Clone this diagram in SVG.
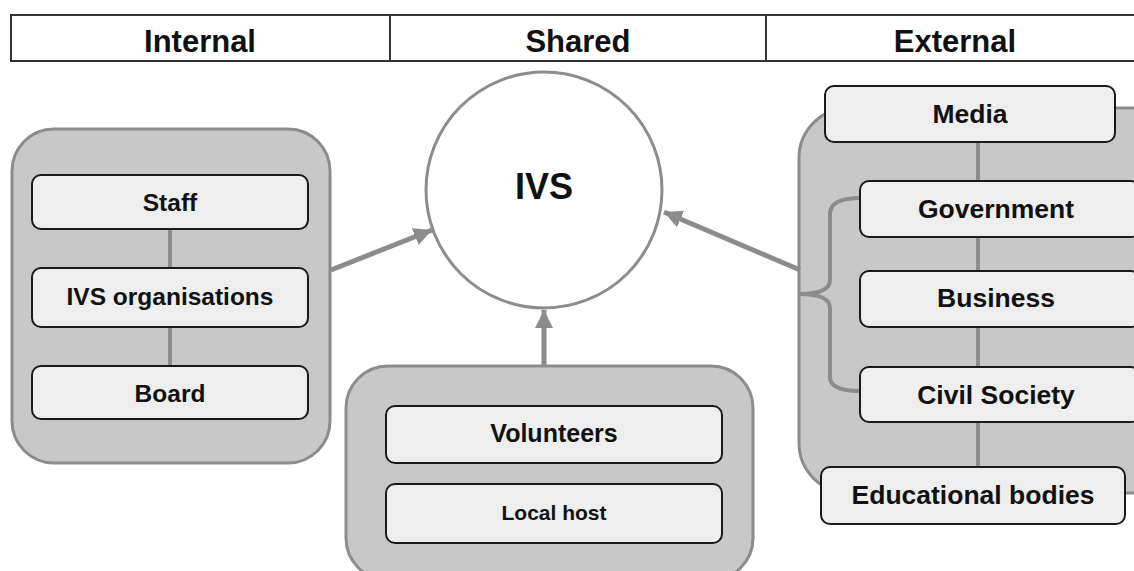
<svg xmlns="http://www.w3.org/2000/svg" width="1134" height="571" viewBox="0 0 1134 571">
<style>
text{font-family:"Liberation Sans",Arial,sans-serif;font-weight:bold;fill:#111;text-anchor:middle}
.grp{fill:#c8c8c8;stroke:#8c8c8c;stroke-width:3}
.box{fill:#eeeeee;stroke:#1a1a1a;stroke-width:2}
.link{stroke:#8c8c8c;stroke-width:4;fill:none}
.arr{stroke:#8c8c8c;stroke-width:5;fill:none;marker-end:url(#ah)}
.hdr{font-size:31px}
.l{font-size:24.5px}
.r{font-size:26.5px}
</style>
<defs>
<marker id="ah" markerUnits="userSpaceOnUse" markerWidth="20" markerHeight="18" refX="18" refY="9" orient="auto">
<path d="M0,0 L18,9 L0,18 Z" fill="#8c8c8c"/>
</marker>
</defs>
<g id="header">
<rect x="11" y="15" width="1140" height="46" fill="#fff" stroke="#333" stroke-width="2"/>
<line x1="390" y1="15" x2="390" y2="61" stroke="#333" stroke-width="2"/>
<line x1="766" y1="15" x2="766" y2="61" stroke="#333" stroke-width="2"/>
<text class="hdr" x="200" y="52">Internal</text>
<text class="hdr" x="578" y="52">Shared</text>
<text class="hdr" x="955" y="52">External</text>
</g>
<g id="internal">
<rect class="grp" x="12" y="129" width="318" height="334" rx="42"/>
<line class="link" x1="170" y1="229" x2="170" y2="268"/>
<line class="link" x1="170" y1="327" x2="170" y2="366"/>
</g>
<g id="staff"><rect class="box" x="32" y="175" width="276" height="54" rx="9"/><text class="l" x="170" y="211">Staff</text></g>
<g id="ivs-organisations"><rect class="box" x="32" y="268" width="276" height="59" rx="9"/><text class="l" x="170" y="305">IVS organisations</text></g>
<g id="board"><rect class="box" x="32" y="366" width="276" height="53" rx="9"/><text class="l" x="170" y="402">Board</text></g>

<g id="ivs"><circle cx="544" cy="190" r="118" fill="#fff" stroke="#8c8c8c" stroke-width="3"/><text x="544" y="199" font-size="36">IVS</text></g>

<g id="shared"><rect class="grp" x="346" y="366" width="407" height="214" rx="42"/></g>
<g id="volunteers"><rect class="box" x="386" y="406" width="336" height="57" rx="9"/><text x="554" y="442" font-size="25">Volunteers</text></g>
<g id="local-host"><rect class="box" x="386" y="484" width="336" height="59" rx="9"/><text x="554" y="520" font-size="21">Local host</text></g>

<g id="external">
<rect class="grp" x="799" y="108" width="420" height="385" rx="50"/>
<line class="link" x1="978" y1="142" x2="978" y2="181"/>
<line class="link" x1="978" y1="237" x2="978" y2="271"/>
<line class="link" x1="978" y1="327" x2="978" y2="367"/>
<line class="link" x1="978" y1="422" x2="978" y2="467"/>
<path class="link" d="M860,198 Q830,198 830,214 L830,280 Q830,294 799,294 Q830,294 830,308 L830,377 Q830,391 860,391"/>
</g>
<g id="media"><rect class="box" x="825" y="86" width="290" height="56" rx="9"/><text class="r" x="970" y="123">Media</text></g>
<g id="government"><rect class="box" x="860" y="181" width="280" height="56" rx="9"/><text class="r" x="996" y="218">Government</text></g>
<g id="business"><rect class="box" x="860" y="271" width="280" height="56" rx="9"/><text class="r" x="996" y="307">Business</text></g>
<g id="civil-society"><rect class="box" x="860" y="367" width="280" height="55" rx="9"/><text class="r" x="996" y="404">Civil Society</text></g>
<g id="educational-bodies"><rect class="box" x="821" y="467" width="304" height="57" rx="9"/><text class="r" x="973" y="504">Educational bodies</text></g>

<g id="connectors">
<line class="arr" x1="331" y1="270" x2="432" y2="230"/>
<line class="arr" x1="800" y1="270" x2="664" y2="212"/>
<line class="arr" x1="544" y1="366" x2="544" y2="310"/>
</g>
</svg>
